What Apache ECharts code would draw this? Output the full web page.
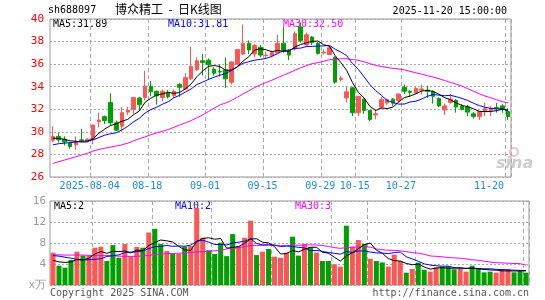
<!DOCTYPE html>
<html>
<head>
<meta charset="utf-8">
<title>博众精工 日K线图</title>
<script src="https://cdn.jsdelivr.net/npm/echarts@6.0.0/dist/echarts.min.js"></script>
<style>
  html, body { margin: 0; padding: 0; background: #fff; }
  #chart { width: 545px; height: 300px; }
</style>
</head>
<body>
<div id="chart"></div>
<script>
  // trading days shown on the chart
  var dates = [
    '2025-07-24','2025-07-25','2025-07-28','2025-07-29','2025-07-30','2025-07-31','2025-08-01',
    '2025-08-04','2025-08-05','2025-08-06','2025-08-07','2025-08-08',
    '2025-08-11','2025-08-12','2025-08-13','2025-08-14','2025-08-15',
    '2025-08-18','2025-08-19','2025-08-20','2025-08-21','2025-08-22',
    '2025-08-25','2025-08-26','2025-08-27','2025-08-28','2025-08-29',
    '2025-09-01','2025-09-02','2025-09-03','2025-09-04','2025-09-05',
    '2025-09-08','2025-09-09','2025-09-10','2025-09-11','2025-09-12',
    '2025-09-15','2025-09-16','2025-09-17','2025-09-18','2025-09-19',
    '2025-09-22','2025-09-23','2025-09-24','2025-09-25','2025-09-26',
    '2025-09-29','2025-09-30','2025-10-09','2025-10-10',
    '2025-10-13','2025-10-14','2025-10-15','2025-10-16','2025-10-17',
    '2025-10-20','2025-10-21','2025-10-22','2025-10-23','2025-10-24',
    '2025-10-27','2025-10-28','2025-10-29','2025-10-30','2025-10-31',
    '2025-11-03','2025-11-04','2025-11-05','2025-11-06','2025-11-07',
    '2025-11-10','2025-11-11','2025-11-12','2025-11-13','2025-11-14',
    '2025-11-17','2025-11-18','2025-11-19','2025-11-20'
  ];
  var labelDates = ['2025-08-04','2025-08-18','2025-09-01','2025-09-15','2025-09-29','2025-10-15','2025-10-27','2025-11-20'];

  var opens = [29.25,29.6,29.35,29.0,28.85,29.3,29.2,29.3,30.9,31.35,
    32.6,30.8,30.5,31.75,32.0,33.0,33.05,34.05,33.6,33.05,
    33.45,33.2,34.2,33.8,34.7,35.5,36.3,36.35,35.55,35.35,
    35.5,34.4,36.0,36.9,37.85,36.9,37.5,36.75,36.75,37.0,
    37.85,37.15,37.35,39.3,37.7,38.4,37.85,37.0,36.85,36.6,
    34.65,33.0,33.9,31.7,32.9,31.9,31.5,32.2,32.55,32.9,
    32.75,33.95,33.6,33.45,33.7,33.7,33.55,32.95,31.95,32.6,
    32.8,32.25,32.2,31.6,31.35,31.8,31.9,32.15,32.3,31.8];
  var closes = [29.6,29.3,29.1,28.7,29.15,29.25,29.35,30.6,31.05,31.0,
    30.8,30.15,31.7,31.9,33.05,32.4,34.05,33.55,33.2,33.6,
    33.1,33.6,33.95,34.8,35.8,36.3,36.15,35.95,35.2,35.3,
    34.7,36.2,37.3,37.85,37.25,37.65,36.8,36.8,37.0,37.85,
    37.25,36.8,38.7,38.1,38.6,37.9,36.95,37.05,37.45,34.4,
    34.75,33.55,31.7,33.15,31.9,31.1,31.6,32.85,32.85,32.55,
    33.35,33.6,33.5,33.85,33.8,33.6,33.15,32.3,32.3,32.9,
    32.2,32.0,31.75,31.35,31.8,32.05,32.1,32.1,32.0,31.35];
  var lows = [29.05,29.05,28.8,28.5,28.4,29.1,29.1,28.9,30.4,30.7,
    30.6,30.05,30.0,31.5,31.6,31.9,32.8,33.15,32.4,32.7,
    32.95,33.0,33.1,33.7,34.6,35.4,35.0,34.6,35.0,34.9,
    33.9,34.2,35.9,36.8,36.9,36.6,36.6,36.5,36.6,36.9,
    37.0,36.35,37.2,37.9,37.5,37.7,36.85,36.85,36.8,34.25,
    34.45,32.6,31.4,31.4,31.6,30.95,31.1,32.0,32.4,32.3,
    32.6,33.35,33.1,33.4,33.3,33.0,32.5,32.2,31.5,32.5,
    31.7,31.9,31.4,31.2,31.05,31.4,31.4,31.7,31.7,31.05];
  var highs = [30.5,29.9,29.6,29.1,29.6,30.25,29.45,30.65,31.7,31.45,
    33.4,31.0,32.2,32.2,33.1,33.1,35.4,34.5,33.65,33.75,
    33.7,33.75,34.35,35.2,37.55,36.6,36.9,36.5,35.75,36.0,
    36.6,36.25,37.35,39.5,38.1,37.8,37.7,37.1,37.2,38.6,
    39.3,37.3,38.9,39.7,38.8,38.5,37.95,37.3,37.65,36.7,
    34.95,34.0,34.0,33.2,32.95,31.95,32.0,33.1,32.95,33.0,
    33.4,34.2,33.7,34.0,34.2,34.1,33.7,33.05,32.5,33.35,
    32.9,32.45,32.4,31.75,31.8,32.6,32.3,32.55,32.45,32.1];
  // volume, 万 shares
  var volumes = [6.16,3.68,3.3,4.76,6.35,5.6,5.6,7.1,7.3,4.57,
    7.6,5.2,7.8,5.4,7.24,7.1,10.0,10.7,7.8,6.5,
    5.9,5.9,7.3,7.4,14.7,9.0,6.6,5.9,8.06,5.5,
    9.7,7.4,9.0,12.25,5.7,6.35,6.86,5.4,5.2,6.16,
    9.2,5.6,7.8,7.17,6.16,4.57,4.57,3.94,3.5,11.3,
    7.3,8.57,7.8,5.0,4.57,4.3,3.5,5.8,4.6,2.35,
    3.05,4.25,2.9,2.54,3.37,3.5,3.6,3.0,3.05,2.54,
    3.68,3.17,2.41,2.54,2.35,3.0,3.05,2.41,2.67,2.35];

  var ma5Head = [29.45,29.4,29.35,29.2];
  var ma10Head = [28.85,28.95,29.0,29.05,29.1,29.15,29.2,29.3,29.5];
  var ma30Head = [27.2,27.35,27.5,27.65,27.8,27.95,28.1,28.3,28.45,28.55,
    28.65,28.75,28.85,29.0,29.2,29.4,29.55,29.75,29.9,30.05,
    30.2,30.4,30.6,30.8,31.0,31.25,31.5,31.8,32.1];
  var volMa5Head = [4.7,4.4,4.3,4.4];
  var volMa10Head = [5.6,5.5,5.3,5.1,4.9,4.8,4.8,4.9,5.0];
  var volMa30Head = [5.75,5.75,5.7,5.7,5.7,5.7,5.65,5.6,5.6,5.6,
    5.55,5.5,5.45,5.45,5.45,5.55,5.65,5.8,5.9,6.0,
    6.0,6.05,6.1,6.2,6.3,6.35,6.45,6.5,6.6];

  var maLabels = ['MA5:31.89','MA10:31.81','MA30:32.50'];
  var volMaLabels = ['MA5:2','MA10:2','MA30:3'];

  var UP = '#ff5555', DOWN = '#00a000';
  var MONO = 'DejaVu Sans Mono';

  function movingAvg(vals, n, head) {
    return vals.map(function (v, i) {
      if (i < n - 1) return head[i];
      var s = 0;
      for (var k = i - n + 1; k <= i; k++) s += vals[k];
      return +(s / n).toFixed(3);
    });
  }

  var kData = dates.map(function (d, i) {
    return [opens[i], closes[i], lows[i], highs[i]];
  });
  var volData = volumes.map(function (v, i) {
    return { value: v, itemStyle: { color: closes[i] >= opens[i] ? UP : DOWN } };
  });

  var isMark = function (i) { return labelDates.indexOf(dates[i]) >= 0; };
  var vLine = { show: true, interval: function (i) { return isMark(i); }, lineStyle: { color: '#aaa', type: [4, 3], width: 1 } };
  var hLine = { show: true, lineStyle: { color: '#aaa', type: [2, 2], width: 1 } };

  function line(name, data, color, xi) {
    return {
      name: name, type: 'line', data: data, xAxisIndex: xi, yAxisIndex: xi,
      symbol: 'none', silent: true, z: 5,
      lineStyle: { color: color, width: 1 }
    };
  }
  function txt(x, y, s, color, extra) {
    var st = { text: s, fill: color, fontFamily: MONO, fontSize: 10, verticalAlign: 'middle', align: 'left' };
    for (var k in extra) st[k] = extra[k];
    return { type: 'text', x: x, y: y, silent: true, style: st };
  }

  var chart = echarts.init(document.getElementById('chart'));
  chart.setOption({
    animation: false,
    backgroundColor: '#fff',
    grid: [
      { left: 50, top: 19, width: 479, height: 158, show: true, borderColor: '#999', borderWidth: 1 },
      { left: 50, top: 201, width: 479, height: 84, show: true, borderColor: '#999', borderWidth: 1 }
    ],
    xAxis: [
      {
        type: 'category', data: dates, gridIndex: 0, boundaryGap: true,
        axisLine: { show: false }, axisTick: { show: false },
        axisLabel: {
          interval: function (i) { return isMark(i); },
          margin: 3,
          formatter: function (v) {
            var s = v === labelDates[0] ? v : v.slice(5);
            return v === dates[dates.length - 1] ? '{e|' + s + '}' : '{n|' + s + '}';
          },
          rich: {
            n: { color: '#2288dd', fontFamily: MONO, fontSize: 10, lineHeight: 12, padding: [0, 7, 0, 0] },
            e: { color: '#2288dd', fontFamily: MONO, fontSize: 10, lineHeight: 12, padding: [0, 38, 0, 0] }
          }
        },
        splitLine: vLine
      },
      {
        type: 'category', data: dates, gridIndex: 1, boundaryGap: true,
        axisLine: { show: false }, axisTick: { show: false }, axisLabel: { show: false },
        splitLine: vLine
      }
    ],
    yAxis: [
      {
        type: 'value', gridIndex: 0, min: 26, max: 40, interval: 2,
        axisLine: { show: false }, axisTick: { show: false },
        axisLabel: { color: '#ff0000', fontFamily: MONO, fontSize: 11, margin: 6 },
        splitLine: hLine
      },
      {
        type: 'value', gridIndex: 1, min: 0, max: 16, interval: 4,
        axisLine: { show: false }, axisTick: { show: false },
        axisLabel: {
          color: '#999', fontFamily: MONO, fontSize: 11, margin: 4,
          formatter: function (v) { return v === 0 ? 'x万' : v; }
        },
        splitLine: hLine
      }
    ],
    series: [
      {
        name: 'K', type: 'candlestick', data: kData, xAxisIndex: 0, yAxisIndex: 0,
        barWidth: 4,
        itemStyle: { color: UP, color0: DOWN, borderColor: UP, borderColor0: DOWN, borderWidth: 1 }
      },
      line('MA30', movingAvg(closes, 30, ma30Head), '#ff00ff', 0),
      line('MA10', movingAvg(closes, 10, ma10Head), '#0000ff', 0),
      line('MA5', movingAvg(closes, 5, ma5Head), '#000000', 0),
      {
        name: 'VOL', type: 'bar', data: volData, xAxisIndex: 1, yAxisIndex: 1, barWidth: 5
      },
      line('VMA30', movingAvg(volumes, 30, volMa30Head), '#ff00ff', 1),
      line('VMA10', movingAvg(volumes, 10, volMa10Head), '#0000ff', 1),
      line('VMA5', movingAvg(volumes, 5, volMa5Head), '#000000', 1)
    ],
    graphic: [
      txt(48, 10, 'sh688097', '#000'),
      txt(115, 9, '博众精工  -  日K线图', '#000', { fontFamily: 'Noto Sans CJK SC', fontSize: 12 }),
      txt(507, 11, '2025-11-20 15:00:00', '#000', { align: 'right' }),
      txt(53, 24, maLabels[0], '#000'),
      txt(168, 24, maLabels[1], '#0000ff'),
      txt(283, 24, maLabels[2], '#ff00ff'),
      txt(54, 206, volMaLabels[0], '#000'),
      txt(175, 206, volMaLabels[1], '#0000ff'),
      txt(295, 206, volMaLabels[2], '#ff00ff'),
      txt(50, 293, 'Copyright 2025 SINA.COM', '#555'),
      txt(529, 293, 'http://finance.sina.com.cn', '#555', { align: 'right' }),
      { type: 'circle', silent: true, shape: { cx: 514, cy: 152, r: 4 }, style: { fill: 'none', stroke: '#f0c4c4', lineWidth: 2 } },
      txt(496, 164, 'sina', '#cccccc', { fontFamily: 'DejaVu Sans', fontSize: 16, fontWeight: 'bold', fontStyle: 'italic' })
    ]
  });
</script>
</body>
</html>
